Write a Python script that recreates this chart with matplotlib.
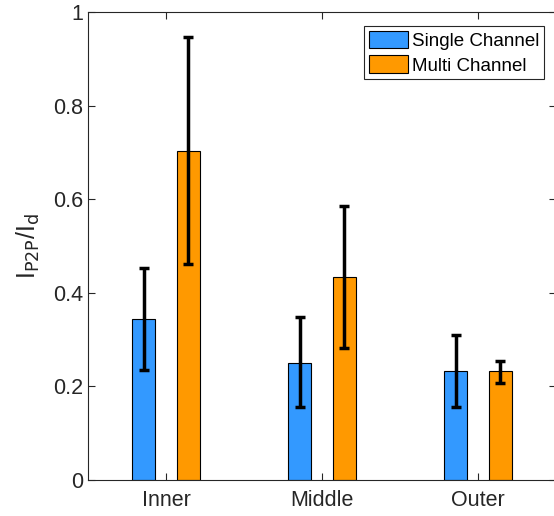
import matplotlib
matplotlib.use('Agg')
import matplotlib.pyplot as plt
import numpy as np

plt.rcParams['font.family'] = ['Liberation Sans', 'DejaVu Sans']
plt.rcParams['mathtext.default'] = 'regular'

# data
groups = ['Inner', 'Middle', 'Outer']
single_vals = [0.343, 0.251, 0.232]
single_hi = [0.452, 0.348, 0.310]
single_lo = [0.235, 0.155, 0.155]
multi_vals = [0.703, 0.434, 0.232]
multi_hi = [0.946, 0.585, 0.254]
multi_lo = [0.461, 0.281, 0.208]
series_names = ['Single Channel', 'Multi Channel']

axcol = '#262626'
blue = '#3399ff'
orange = '#ff9900'

fig = plt.figure(figsize=(5.54, 5.16), dpi=100)
ax = fig.add_axes([88/554, 36/516, 468/554, 468/516])

x = np.arange(1, len(groups) + 1)
off = 0.144
w = 0.147

sv = np.array(single_vals)
mv = np.array(multi_vals)
s_err = [sv - np.array(single_lo), np.array(single_hi) - sv]
m_err = [mv - np.array(multi_lo), np.array(multi_hi) - mv]

ax.bar(x - off, sv, w, color=blue, edgecolor='black', linewidth=0.8, label=series_names[0], zorder=2)
ax.bar(x + off, mv, w, color=orange, edgecolor='black', linewidth=0.8, label=series_names[1], zorder=2)
ax.errorbar(x - off, sv, yerr=s_err, fmt='none', ecolor='black', elinewidth=2.5, capsize=3.3, capthick=2.5, zorder=3)
ax.errorbar(x + off, mv, yerr=m_err, fmt='none', ecolor='black', elinewidth=2.5, capsize=3.3, capthick=2.5, zorder=3)

ax.set_xlim(0.5, 3.5)
ax.set_ylim(0, 1)
ax.set_xticks(x)
ax.set_xticklabels(groups)
ax.set_yticks(np.arange(0, 1.01, 0.2))
ax.set_yticklabels(['0', '0.2', '0.4', '0.6', '0.8', '1'])
ax.tick_params(direction='in', top=True, right=True, labelsize=15.5, colors=axcol, length=5, width=0.8)
ax.tick_params(axis='x', pad=7)
for s in ax.spines.values():
    s.set_color(axcol)
    s.set_linewidth(0.8)

ax.set_ylabel(r'I$_{\mathrm{P2P}}$/I$_{\mathrm{d}}$', fontsize=18, color=axcol, labelpad=8)

leg = ax.legend(loc='upper right', bbox_to_anchor=(0.975, 0.97), fontsize=13.5, fancybox=False,
                edgecolor=axcol, framealpha=1, handlelength=2.1, handleheight=1.05,
                handletextpad=0.2, borderpad=0.25, labelspacing=0.3, borderaxespad=0.0)
leg.get_frame().set_linewidth(0.8)

fig.savefig('out.png', dpi=100)
